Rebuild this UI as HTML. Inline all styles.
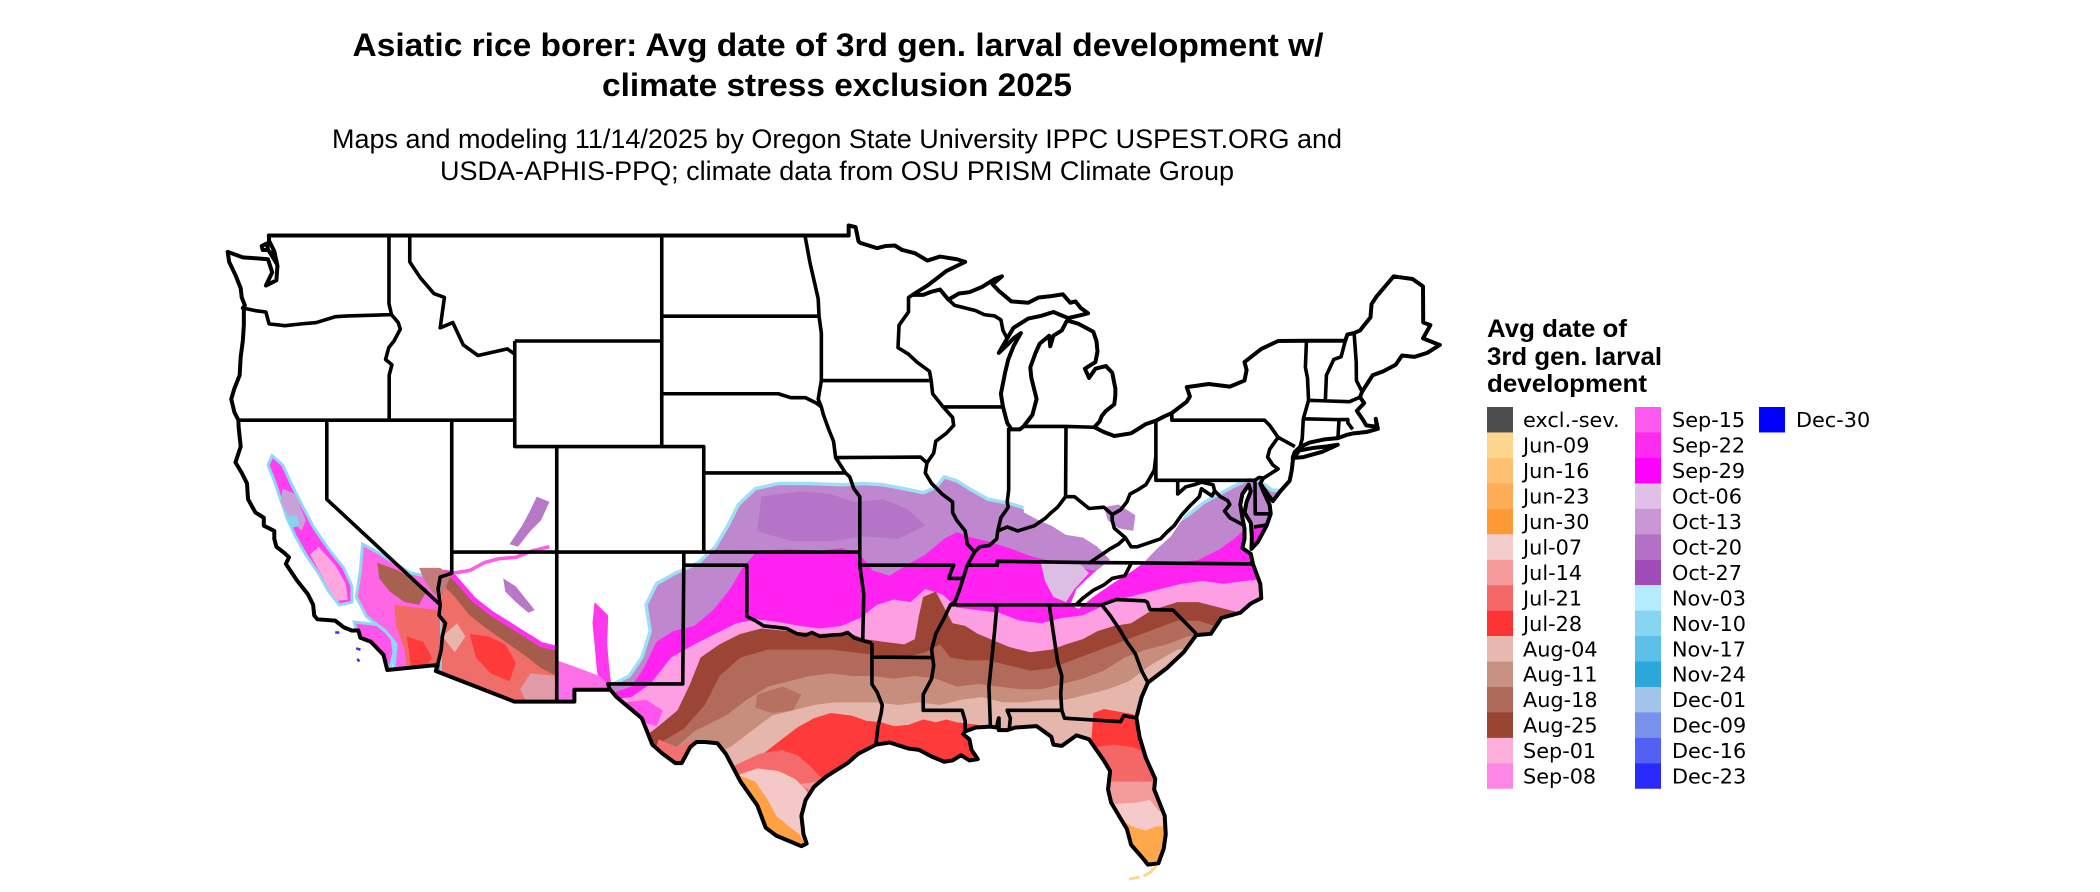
<!DOCTYPE html>
<html>
<head>
<meta charset="utf-8">
<style>
html,body{margin:0;padding:0;background:#fff;}
svg{display:block;}
.lbl{font-family:"DejaVu Sans","Liberation Sans",sans-serif;font-size:20.8px;fill:#000;}
</style>
</head>
<body>
<svg xmlns="http://www.w3.org/2000/svg" width="2100" height="892" viewBox="0 0 2100 892">
<rect width="2100" height="892" fill="#fff"/>

<!-- Titles -->
<text x="838" y="56" text-anchor="middle" font-family="Liberation Sans, Arial, sans-serif" font-weight="bold" font-size="32.5" textLength="971" lengthAdjust="spacingAndGlyphs">Asiatic rice borer: Avg date of 3rd gen. larval development w/</text>
<text x="837" y="96" text-anchor="middle" font-family="Liberation Sans, Arial, sans-serif" font-weight="bold" font-size="32.5" textLength="470" lengthAdjust="spacingAndGlyphs">climate stress exclusion 2025</text>
<text x="837" y="148" text-anchor="middle" font-family="Liberation Sans, Arial, sans-serif" font-size="27" textLength="1010" lengthAdjust="spacingAndGlyphs">Maps and modeling 11/14/2025 by Oregon State University IPPC USPEST.ORG and</text>
<text x="837" y="180" text-anchor="middle" font-family="Liberation Sans, Arial, sans-serif" font-size="27" textLength="794" lengthAdjust="spacingAndGlyphs">USDA-APHIS-PPQ; climate data from OSU PRISM Climate Group</text>

<!-- Map in lon/lat space -->
<g transform="matrix(21 0 0 -26.38 2846.8 1528.1)">
<defs>
<clipPath id="usc">
<path d="M-122.76 49 L-95.15 49 L-95.15 49.38 L-94.82 49.32 L-94.68 48.78 L-94.6 48.72 L-93.8 48.52 L-93.4 48.6 L-92.95 48.62 L-92.6 48.45 L-92 48.33 L-91.4 48.05 L-90.8 48.2 L-90 48.1 L-89.6 48 L-90.5 47.65 L-91.4 47.1 L-92.1 46.75 L-91.6 46.75 L-91.2 46.87 L-90.8 46.95 L-90.4 46.57 L-89.9 46.8 L-89.4 46.85 L-88.8 47.05 L-88.2 47.35 L-87.85 47.45 L-88.3 47.15 L-88 46.9 L-87.4 46.5 L-86.6 46.45 L-86.1 46.65 L-85.5 46.7 L-84.95 46.77 L-84.6 46.45 L-84.35 46.5 L-84.1 46.25 L-83.75 46.05 L-84.1 45.98 L-84.7 45.87 L-85.4 46.1 L-86 45.95 L-86.6 45.85 L-86.9 45.7 L-87.3 45.5 L-87.6 45.1 L-88 44.55 L-87.6 44.85 L-87.3 45.1 L-86.95 45.3 L-87.3 44.8 L-87.55 44.3 L-87.7 43.8 L-87.9 43 L-87.8 42.5 L-87.6 41.9 L-87.4 41.65 L-87 41.65 L-86.82 41.76 L-86.4 42.2 L-86.2 42.8 L-86.45 43.6 L-86.5 44 L-86.25 44.55 L-86.05 44.9 L-85.6 45.2 L-85.55 44.8 L-85.4 45.2 L-85 45.4 L-84.75 45.78 L-84.2 45.65 L-83.5 45.35 L-83.35 45 L-83.3 44.6 L-83.4 44.2 L-83.9 43.95 L-83.7 43.6 L-83.4 43.95 L-82.9 44.05 L-82.6 43.8 L-82.45 43.2 L-82.45 42.95 L-82.5 42.6 L-82.9 42.35 L-83.1 42.15 L-83.2 41.95 L-83.45 41.73 L-83 41.55 L-82.5 41.4 L-81.7 41.5 L-81 41.85 L-80.52 41.98 L-80.1 42.15 L-79.76 42.27 L-79.05 42.7 L-78.9 42.9 L-79.05 43.25 L-78 43.37 L-77 43.27 L-76.3 43.5 L-76.2 43.9 L-76.3 44.2 L-75.5 44.7 L-74.7 45 L-73.35 45.01 L-71.5 45.01 L-71.4 45.25 L-71.08 45.3 L-70.8 45.4 L-70.3 45.9 L-70.25 46.4 L-70 46.7 L-69.2 47.45 L-68.3 47.35 L-67.8 47.07 L-67.79 45.7 L-67.45 45.6 L-67.8 45.1 L-67 44.85 L-67.6 44.55 L-68.2 44.4 L-68.8 44.45 L-69.1 44.1 L-69.7 43.85 L-70.2 43.7 L-70.6 43.2 L-70.7 43.08 L-70.8 42.87 L-70.6 42.65 L-70.95 42.35 L-70.65 42 L-70.5 41.8 L-70 41.75 L-70.05 42.05 L-69.95 41.67 L-70.5 41.55 L-71.1 41.5 L-71.4 41.45 L-71.85 41.32 L-72.5 41.27 L-73.2 41.15 L-73.66 40.98 L-73.9 40.8 L-74 40.6 L-74 40.45 L-74.05 40.1 L-74.15 39.7 L-74.6 39.3 L-74.95 38.93 L-75.2 39.2 L-75.55 39.6 L-75.4 39.3 L-75.1 38.78 L-75.05 38.45 L-75.25 38 L-75.65 37.4 L-75.97 37.12 L-75.95 37.6 L-76 38.1 L-76.3 38.5 L-76.2 38.9 L-76 39.3 L-76.1 39.55 L-76.4 39.2 L-76.5 38.8 L-76.4 38.3 L-76.3 37.9 L-76.3 37.5 L-76.4 37.15 L-76 36.93 L-75.9 36.55 L-75.55 35.8 L-75.5 35.25 L-76 35.05 L-76.5 34.7 L-77.4 34.5 L-77.9 33.9 L-78.6 33.85 L-79.2 33.2 L-80 32.6 L-80.9 32.05 L-81.2 31.5 L-81.45 30.72 L-81.3 30 L-81 29.2 L-80.55 28.4 L-80.6 28 L-80.1 27 L-80.05 26.3 L-80.15 25.75 L-80.4 25.2 L-80.9 25.15 L-81.15 25.4 L-81.7 25.9 L-81.9 26.5 L-82.2 26.9 L-82.65 27.5 L-82.8 28 L-82.7 28.7 L-83 29.1 L-83.7 29.9 L-84.3 30.05 L-85 29.65 L-85.4 29.7 L-85.5 30 L-86.2 30.4 L-87.2 30.35 L-87.6 30.25 L-88 30.25 L-88 30.7 L-88.1 30.35 L-88.4 30.38 L-89.1 30.35 L-89.6 30.2 L-89.7 30.1 L-89.4 29.9 L-89.3 29.5 L-89 29.15 L-89.4 29.1 L-89.8 29.3 L-90.2 29.1 L-90.6 29.05 L-91.2 29.25 L-91.8 29.5 L-92.3 29.55 L-93.2 29.78 L-93.85 29.7 L-94.7 29.35 L-95.2 29 L-96.2 28.5 L-96.8 28.1 L-97.2 27.6 L-97.4 27 L-97.3 26.3 L-97.15 25.95 L-97.4 25.85 L-98 26.05 L-98.6 26.25 L-99.1 26.55 L-99.5 27.4 L-99.9 27.85 L-100.3 28.3 L-100.7 28.9 L-101 29.35 L-101.4 29.75 L-102 29.8 L-102.4 29.8 L-102.7 29.6 L-103.1 29 L-103.4 29 L-104 29.35 L-104.5 29.7 L-104.7 30.1 L-105 30.7 L-105.6 31.1 L-106.2 31.5 L-106.5 31.78 L-108.21 31.78 L-108.21 31.33 L-111.07 31.33 L-114.81 32.49 L-114.72 32.72 L-117.12 32.53 L-117.3 33.1 L-117.9 33.6 L-118.4 33.75 L-118.5 34.03 L-118.8 34.02 L-119.2 34.15 L-119.6 34.4 L-120.45 34.45 L-120.6 34.6 L-120.65 35 L-120.9 35.4 L-121.4 35.9 L-121.95 36.55 L-121.8 36.8 L-122 36.95 L-122.4 37.2 L-122.5 37.5 L-122.5 37.8 L-123 38 L-123 38.3 L-123.4 38.5 L-123.75 39 L-123.8 39.6 L-124.05 40 L-124.35 40.4 L-124.1 41 L-124.2 41.75 L-124.21 42 L-124.4 42.3 L-124.55 42.8 L-124.4 43.2 L-124.15 43.7 L-124.1 44.4 L-124 45 L-123.95 45.6 L-123.95 46.2 L-124 46.25 L-123.9 46.35 L-124.05 46.65 L-124.1 47 L-124.35 47.5 L-124.65 48 L-124.72 48.38 L-124 48.17 L-123.1 48.12 L-122.8 48.1 L-122.6 47.6 L-122.9 47.1 L-122.4 47.3 L-122.35 47.85 L-122.5 48.4 L-122.75 48.8 Z M-73.95 40.57 L-73.5 40.6 L-72.6 40.8 L-71.86 41.07 L-72.4 41 L-73 40.95 L-73.7 40.85 Z"/>
</clipPath>
</defs>

<g clip-path="url(#usc)">
<!-- A purple -->
<path fill="#bf87cd" stroke="#9fdff4" stroke-width="3.5" vector-effect="non-scaling-stroke" d="M-107 28 L-106.6 31.9 L-105.6 32.3 L-105 33 L-104.6 34 L-104.8 35 L-104.3 35.8 L-103.4 36.2 L-102.3 36.6 L-101.5 37.2 L-100.9 38 L-100.4 38.8 L-99.6 39.4 L-98.5 39.6 L-97 39.6 L-95.5 39.55 L-94.5 39.6 L-93.5 39.55 L-92.5 39.4 L-91.6 39.25 L-91 39.45 L-90.6 39.85 L-90 39.7 L-89.3 39.35 L-88.5 39 L-87.5 38.85 L-86.5 38.6 L-85.5 38.4 L-84.5 38.2 L-83.5 38.5 L-82.5 38.8 L-81.5 38.3 L-80.5 37.8 L-79.8 38 L-79 38.4 L-78.2 38.9 L-77.5 39.2 L-76.8 39.5 L-76.1 39.75 L-75.5 39.65 L-75 39.35 L-74 39.3 L-72 38 L-74 30 L-80 24 L-98 24 Z"/>
<!-- darker purple mottling -->
<path fill="#b06cc4" opacity="0.7" d="M-99.3 39.1 L-97.5 39.3 L-96 39.2 L-94.9 38.9 L-93.5 39.0 L-92.3 38.6 L-91.5 38.0 L-92.8 37.5 L-94.5 37.6 L-96 37.4 L-97.8 37.4 L-99.5 37.8 Z"/>
<!-- B magenta -->
<path fill="#ff22f0" d="M-107 28 L-106.6 31.6 L-105.5 31.9 L-104.9 32.6 L-104.3 33.6 L-103.5 34 L-102.5 34.2 L-101.6 34.8 L-100.8 35.6 L-100.2 36.4 L-99.5 37.05 L-98 37.1 L-96.5 37.05 L-95.5 37.15 L-94.6 36.9 L-94 36.3 L-93.2 36.1 L-92.5 36.45 L-91.5 36.9 L-90.6 37.5 L-90 37.75 L-89.3 37.55 L-88.5 37.4 L-87.5 37.15 L-86.5 36.85 L-85.5 36.65 L-84.5 36.5 L-83.5 36.3 L-82.5 36.3 L-81.5 36.5 L-80.5 36.55 L-79.5 36.6 L-78.5 36.7 L-77.5 37.1 L-76.8 37.5 L-76.2 37.9 L-75.5 38 L-74 37 L-74 30 L-80 24 L-98 24 Z"/>
<!-- C pink -->
<path fill="#ff9fe3" d="M-107 28 L-106.6 31.4 L-105.5 31.5 L-104.6 32 L-103.6 33 L-102.5 33.5 L-101.5 33.9 L-100.5 34.3 L-99.5 34.45 L-98.5 34.35 L-97.5 34.2 L-96.5 34.1 L-95.5 34.2 L-94.6 34.5 L-93.8 35 L-93 35.2 L-92.2 35.1 L-91.5 35.6 L-90.7 35.4 L-90 34.9 L-89 34.8 L-88 34.7 L-87 34.4 L-86 34.3 L-85 34.5 L-84 34.6 L-83.2 34.9 L-82.3 35.2 L-81.3 35.4 L-80.3 35.6 L-79.3 35.8 L-78.3 35.9 L-77.3 35.8 L-76.3 35.9 L-75 36 L-74 30 L-80 24 L-98 24 Z"/>
<!-- D Aug-25 -->
<path fill="#9c4535" d="M-107 28 L-105.5 29.6 L-104.2 30.4 L-103.3 31 L-102.7 32 L-102.2 33 L-101.3 33.5 L-100.3 33.9 L-99.3 34.1 L-98 34 L-96.5 33.9 L-95.2 33.95 L-94.4 33.7 L-93.5 33.6 L-92.5 33.5 L-92 33.7 L-91.8 34.6 L-91.6 35.3 L-91 35.5 L-90.6 34.9 L-90.2 34.3 L-89.6 34.2 L-89 33.9 L-88.4 33.7 L-87.5 33.4 L-86.5 33.2 L-85.5 33.3 L-84.8 33.5 L-84 33.7 L-83.3 34 L-82.5 34.2 L-81.7 34.3 L-80.7 34.8 L-79.5 35.1 L-78.5 35.1 L-77.5 34.9 L-76.5 34.7 L-75.5 34.8 L-74 30 L-80 24 L-98 24 Z"/>
<!-- E Aug-18 -->
<path fill="#b26a5a" d="M-107 28 L-104.5 29.6 L-103 30.3 L-102 31.2 L-101.3 32.3 L-100.3 33 L-99 33.3 L-97.5 33.3 L-96 33.3 L-95 33.2 L-93.8 33.1 L-92.5 33 L-91.5 33.2 L-90.8 33.5 L-90.3 33 L-89.5 32.9 L-88.5 32.9 L-87.5 32.7 L-86.5 32.5 L-85.5 32.6 L-84.5 32.9 L-83.5 33.2 L-82.5 33.5 L-81.5 33.8 L-80.5 34.1 L-79.5 34.4 L-78.5 34.4 L-77 34 L-76 33 L-80 24 L-98 24 Z"/>
<!-- F Aug-11 -->
<path fill="#c78e7e" d="M-107 28 L-103.5 29.5 L-102.5 30.2 L-101 30.8 L-100 31.4 L-99 31.9 L-98 32.1 L-97 32.3 L-96 32.4 L-95 32.3 L-94 32.3 L-93 32.2 L-92 32.3 L-91 32.2 L-90 31.9 L-89 32 L-88 31.9 L-87 31.8 L-86 31.8 L-85 32 L-84 32.2 L-83 32.5 L-82 33 L-81 33.3 L-80 33.5 L-79 33.8 L-77 34 L-80 24 L-98 24 Z"/>
<!-- mottling in TX -->
<path fill="#b26a5a" opacity="0.8" d="M-99.5 31.6 L-98.3 31.9 L-97.4 31.6 L-97.8 31.0 L-98.8 30.9 L-99.6 31.1 Z"/>
<!-- G Aug-04 -->
<path fill="#e5b7ac" d="M-107 28 L-102 29.2 L-100.8 29.6 L-99.8 30.2 L-98.8 30.8 L-97.8 31 L-96.8 31.2 L-95.8 31.3 L-94.8 31.3 L-93.8 31.3 L-92.8 31.2 L-91.8 31.3 L-90.8 31.2 L-89.8 31.4 L-88.8 31.5 L-87.8 31.3 L-86.8 31.3 L-85.8 31.4 L-84.8 31.4 L-83.8 31.6 L-82.8 31.8 L-81.8 32.1 L-80.8 32.7 L-79.5 33.3 L-77 33.5 L-80 24 L-98 24 Z"/>
<!-- H Jul-28 Gulf coast -->
<path fill="#ff3a3a" d="M-99.5 28.5 L-99.3 29.3 L-98.5 29.8 L-97.6 30.35 L-96.8 30.7 L-96 30.9 L-95 30.8 L-94.3 30.6 L-93.6 30.55 L-93 30.4 L-92.3 30.45 L-91.6 30.65 L-91 30.55 L-90.5 30.65 L-90 30.55 L-89.5 30.5 L-89 30.45 L-88.7 30.2 L-89 28 L-97 27 Z"/>
<!-- South TX -->
<path fill="#f56a6a" d="M-100.6 28.9 L-99.4 29.35 L-98.4 29.5 L-97.6 29.3 L-97 28.9 L-96.4 28.4 L-96 27 L-100.6 27 Z"/>
<path fill="#f4c8c6" d="M-100.6 28.5 L-99.5 28.8 L-98.5 28.7 L-97.7 28.4 L-97.2 28 L-96.8 27.5 L-96.5 25 L-100.6 25 Z"/>
<path fill="#f39a9a" d="M-97.5 28.2 L-97.05 28 L-97.2 27.2 L-97.3 26.3 L-96.5 26 L-96.5 28.3 Z"/>
<path fill="#ffa043" d="M-100.6 28.6 L-99.6 28.3 L-99 27.6 L-98.6 27 L-98 26.6 L-97.5 26.3 L-97.2 25.9 L-97 25 L-100.6 25 Z"/>
<!-- Big Bend bits -->
<path fill="#f27070" d="M-104.2 29.9 L-103.3 29.6 L-102.5 29.9 L-102.8 29.2 L-103.6 28.8 L-104.4 29.3 Z"/>
<path fill="#ff55ee" d="M-105.8 31.3 L-104.8 31.4 L-104.0 31.0 L-104.3 30.4 L-105.2 30.6 Z"/>
<!-- Florida -->
<path fill="#ff3838" d="M-83.5 30.9 L-83 31.05 L-82.3 30.95 L-81.6 30.85 L-81.2 30.2 L-80.8 29.4 L-80.3 28.5 L-82.8 28.3 L-83.2 29.2 L-83.6 29.8 Z"/>
<path fill="#f46767" d="M-83.5 29.6 L-82.5 29.7 L-81.6 29.6 L-81 29.4 L-80 28 L-83.5 27.8 Z"/>
<path fill="#f39b9b" d="M-83.5 28.3 L-80 28.3 L-80 26 L-83.5 26 Z"/>
<path fill="#f4caca" d="M-83.5 27.4 L-81.5 27.5 L-80.8 27.6 L-80.4 27.2 L-79.8 27 L-79.8 25 L-83.5 25 Z"/>
<path fill="#ffa84a" d="M-83.5 26.85 L-82 26.75 L-81.5 26.55 L-81 26.45 L-80.5 26.6 L-79.8 26.6 L-79.8 24.5 L-83.5 24.5 Z"/>
<!-- Appalachian / KY white -->
<path fill="#ffffff" d="M-86.9 39.5 L-86.8 38.5 L-86.1 38.2 L-85.5 38 L-84.8 37.65 L-84 37.55 L-83.3 37.2 L-82.7 36.7 L-83.5 36.2 L-84.3 35.6 L-84.6 35 L-84.2 34.85 L-83.5 35.3 L-82.6 35.8 L-81.6 36.3 L-81.1 36.6 L-80.5 37.1 L-79.8 37.6 L-79.3 38.2 L-78.8 38.8 L-78.3 39.3 L-78 39.8 L-78 41 L-87 41 Z"/>
<path fill="#dcbde3" d="M-86 36.6 L-84.2 36.6 L-83.7 36.2 L-84.4 35.6 L-84.8 35.1 L-85.4 35.3 L-85.8 35.9 Z"/>
<path fill="#bf87cd" d="M-83 38.7 L-82.3 38.8 L-81.5 38.4 L-81.6 37.8 L-82.3 37.9 L-82.8 38.2 Z"/>

<!-- California Central Valley -->
<path fill="#ff3ff0" stroke="#8ed8f1" stroke-width="3" vector-effect="non-scaling-stroke" d="M-122.6 40.65 L-122.1 40.3 L-121.7 39.6 L-121.2 38.8 L-120.6 37.9 L-119.9 37.1 L-119.2 36.4 L-118.8 35.7 L-118.8 35.1 L-119.4 35 L-119.9 35.5 L-120.4 36.2 L-121 36.9 L-121.5 37.6 L-121.9 38.3 L-122.2 39 L-122.5 39.7 L-122.8 40.3 Z"/>
<path fill="#ffa6e0" d="M-120.4 37.2 L-119.6 36.5 L-119.1 35.8 L-119 35.2 L-119.5 35.15 L-119.9 35.6 L-120.3 36.2 L-120.8 36.9 Z"/>
<path fill="#c9a0d9" d="M-122.1 39.4 L-121.5 39.2 L-121 38.2 L-121.2 37.8 L-121.8 38.3 L-122.2 38.9 Z"/>
<path fill="#86d3ef" d="M-121.9 38.4 L-121.4 38.35 L-121.3 38 L-121.7 37.9 Z"/>
<!-- SoCal -->
<path fill="#ff55ea" stroke="#8ed8f1" stroke-width="3" vector-effect="non-scaling-stroke" d="M-118.7 34.35 L-117.6 34.25 L-116.9 33.8 L-116.8 33.2 L-117 32.55 L-117.3 33 L-117.9 33.5 L-118.5 33.8 Z"/>
<!-- Arizona -->
<path fill="#f06e6a" d="M-114.6 36.2 L-114.1 36.15 L-113.6 35.7 L-113 35.15 L-112.2 34.65 L-111.4 34.25 L-110.6 33.85 L-109.8 33.45 L-109.05 33.3 L-109.05 31 L-114.7 31 L-114.7 35 Z"/>
<path fill="#a65c4c" d="M-114.3 36.15 L-113.6 35.7 L-113 35.15 L-112.2 34.65 L-111.4 34.25 L-110.6 33.85 L-109.8 33.45 L-109.05 33.3 L-109.05 32.3 L-109.8 32.6 L-110.6 33.1 L-111.5 33.6 L-112.4 34.1 L-113.2 34.6 L-113.9 35.3 L-114.4 35.7 Z"/>
<path fill="#ff3a3a" d="M-113.2 33.9 L-112.3 33.8 L-111.5 33.5 L-111 32.8 L-111.3 32.1 L-112.2 32.4 L-112.9 33 Z"/>
<path fill="#e8b5ad" d="M-114.5 33.8 L-113.8 34.3 L-113.4 33.8 L-113.9 33.2 Z"/>
<path fill="#e09aa8" d="M-110.3 32.4 L-109.05 32.3 L-109.05 31.33 L-110.5 31.33 L-110.8 31.8 Z"/>
<path fill="none" stroke="#ff33ee" stroke-width="5" vector-effect="non-scaling-stroke" d="M-114.6 36.25 L-114.1 36.2 L-113.6 35.75 L-113 35.2 L-112.2 34.7 L-111.4 34.3 L-110.6 33.9 L-109.8 33.5 L-109.05 33.35"/>
<path fill="none" stroke="#ff5ae8" stroke-width="3.5" vector-effect="non-scaling-stroke" d="M-114 36.2 L-113.2 36.3 L-112.5 36.6 L-111.8 36.75 L-111 36.8 L-110.2 37.05 L-109.4 37.2"/>
<!-- CA desert -->
<path fill="#ff66e6" stroke="#8ed8f1" stroke-width="3" vector-effect="non-scaling-stroke" d="M-118.3 37.3 L-117.6 37 L-116.8 36.6 L-116 36.2 L-115.3 36.1 L-114.6 36.1 L-114.6 32.5 L-116.8 32.6 L-116.7 33.5 L-117.2 34 L-118.1 34.55 L-118.6 35.3 L-118.4 36.3 Z"/>
<path fill="#a8614f" d="M-117.6 36.6 L-116.6 36.3 L-115.8 35.9 L-115.2 35.6 L-115.6 35 L-116.3 35.1 L-117 35.5 L-117.5 36 Z"/>
<path fill="#f26a66" d="M-116.8 35 L-115.8 34.9 L-114.6 34.8 L-114.6 32.5 L-116.2 32.6 L-116.3 33.3 L-116.7 34.2 Z"/>
<path fill="#ff3a3a" d="M-116.2 33.8 L-115.4 33.6 L-115 33 L-115.3 32.6 L-116 32.7 L-116.1 33.3 Z"/>
<path fill="#c27a7a" d="M-115.6 36.4 L-114.6 36.4 L-114.1 36.1 L-114.6 35.2 L-115 35.5 L-115.4 36 Z"/>
<!-- New Mexico -->
<path fill="#ff38ee" d="M-107.25 35.1 L-106.6 34.6 L-106.65 33.5 L-106.55 32.6 L-106.45 31.9 L-107 31.85 L-107.15 32.6 L-107.25 33.5 L-107.35 34.3 Z"/>
<path fill="#ff70e8" d="M-109.05 32.9 L-108 32.6 L-107 32.3 L-106.6 32 L-106.5 31.78 L-108.21 31.78 L-108.21 31.33 L-109.05 31.33 Z"/>
<!-- purple streaks -->
<path fill="#b878c8" d="M-110 39.1 L-109.4 38.9 L-109.8 38.2 L-110.3 37.8 L-110.9 37.2 L-111.3 37.3 L-110.7 38 L-110.3 38.6 Z"/>
<path fill="#b878c8" d="M-111.6 36 L-111 35.7 L-110.5 35.2 L-110.1 34.8 L-110.4 34.7 L-111 35.1 L-111.5 35.5 Z"/>
</g>

<!-- tiny island bits -->
<path fill="none" stroke="#3030ff" stroke-width="2.5" vector-effect="non-scaling-stroke" d="M-118.6 33.35 L-118.4 33.3 M-118.55 32.95 L-118.45 32.85 M-119.6 33.95 L-119.4 33.95"/>
<path fill="none" stroke="#ffd68f" stroke-width="3" vector-effect="non-scaling-stroke" d="M-81.8 24.6 L-81.3 24.68 M-81.1 24.72 L-80.8 24.85 L-80.5 25.1"/>

<!-- outline -->
<path fill="none" stroke="#000" stroke-width="4" stroke-linejoin="round" vector-effect="non-scaling-stroke" d="M-122.76 49 L-95.15 49 L-95.15 49.38 L-94.82 49.32 L-94.68 48.78 L-94.6 48.72 L-93.8 48.52 L-93.4 48.6 L-92.95 48.62 L-92.6 48.45 L-92 48.33 L-91.4 48.05 L-90.8 48.2 L-90 48.1 L-89.6 48 L-90.5 47.65 L-91.4 47.1 L-92.1 46.75 L-91.6 46.75 L-91.2 46.87 L-90.8 46.95 L-90.4 46.57 L-89.9 46.8 L-89.4 46.85 L-88.8 47.05 L-88.2 47.35 L-87.85 47.45 L-88.3 47.15 L-88 46.9 L-87.4 46.5 L-86.6 46.45 L-86.1 46.65 L-85.5 46.7 L-84.95 46.77 L-84.6 46.45 L-84.35 46.5 L-84.1 46.25 L-83.75 46.05 L-84.1 45.98 L-84.7 45.87 L-85.4 46.1 L-86 45.95 L-86.6 45.85 L-86.9 45.7 L-87.3 45.5 L-87.6 45.1 L-88 44.55 L-87.6 44.85 L-87.3 45.1 L-86.95 45.3 L-87.3 44.8 L-87.55 44.3 L-87.7 43.8 L-87.9 43 L-87.8 42.5 L-87.6 41.9 L-87.4 41.65 L-87 41.65 L-86.82 41.76 L-86.4 42.2 L-86.2 42.8 L-86.45 43.6 L-86.5 44 L-86.25 44.55 L-86.05 44.9 L-85.6 45.2 L-85.55 44.8 L-85.4 45.2 L-85 45.4 L-84.75 45.78 L-84.2 45.65 L-83.5 45.35 L-83.35 45 L-83.3 44.6 L-83.4 44.2 L-83.9 43.95 L-83.7 43.6 L-83.4 43.95 L-82.9 44.05 L-82.6 43.8 L-82.45 43.2 L-82.45 42.95 L-82.5 42.6 L-82.9 42.35 L-83.1 42.15 L-83.2 41.95 L-83.45 41.73 L-83 41.55 L-82.5 41.4 L-81.7 41.5 L-81 41.85 L-80.52 41.98 L-80.1 42.15 L-79.76 42.27 L-79.05 42.7 L-78.9 42.9 L-79.05 43.25 L-78 43.37 L-77 43.27 L-76.3 43.5 L-76.2 43.9 L-76.3 44.2 L-75.5 44.7 L-74.7 45 L-73.35 45.01 L-71.5 45.01 L-71.4 45.25 L-71.08 45.3 L-70.8 45.4 L-70.3 45.9 L-70.25 46.4 L-70 46.7 L-69.2 47.45 L-68.3 47.35 L-67.8 47.07 L-67.79 45.7 L-67.45 45.6 L-67.8 45.1 L-67 44.85 L-67.6 44.55 L-68.2 44.4 L-68.8 44.45 L-69.1 44.1 L-69.7 43.85 L-70.2 43.7 L-70.6 43.2 L-70.7 43.08 L-70.8 42.87 L-70.6 42.65 L-70.95 42.35 L-70.65 42 L-70.5 41.8 L-70 41.75 L-70.05 42.05 L-69.95 41.67 L-70.5 41.55 L-71.1 41.5 L-71.4 41.45 L-71.85 41.32 L-72.5 41.27 L-73.2 41.15 L-73.66 40.98 L-73.9 40.8 L-74 40.6 L-74 40.45 L-74.05 40.1 L-74.15 39.7 L-74.6 39.3 L-74.95 38.93 L-75.2 39.2 L-75.55 39.6 L-75.4 39.3 L-75.1 38.78 L-75.05 38.45 L-75.25 38 L-75.65 37.4 L-75.97 37.12 L-75.95 37.6 L-76 38.1 L-76.3 38.5 L-76.2 38.9 L-76 39.3 L-76.1 39.55 L-76.4 39.2 L-76.5 38.8 L-76.4 38.3 L-76.3 37.9 L-76.3 37.5 L-76.4 37.15 L-76 36.93 L-75.9 36.55 L-75.55 35.8 L-75.5 35.25 L-76 35.05 L-76.5 34.7 L-77.4 34.5 L-77.9 33.9 L-78.6 33.85 L-79.2 33.2 L-80 32.6 L-80.9 32.05 L-81.2 31.5 L-81.45 30.72 L-81.3 30 L-81 29.2 L-80.55 28.4 L-80.6 28 L-80.1 27 L-80.05 26.3 L-80.15 25.75 L-80.4 25.2 L-80.9 25.15 L-81.15 25.4 L-81.7 25.9 L-81.9 26.5 L-82.2 26.9 L-82.65 27.5 L-82.8 28 L-82.7 28.7 L-83 29.1 L-83.7 29.9 L-84.3 30.05 L-85 29.65 L-85.4 29.7 L-85.5 30 L-86.2 30.4 L-87.2 30.35 L-87.6 30.25 L-88 30.25 L-88 30.7 L-88.1 30.35 L-88.4 30.38 L-89.1 30.35 L-89.6 30.2 L-89.7 30.1 L-89.4 29.9 L-89.3 29.5 L-89 29.15 L-89.4 29.1 L-89.8 29.3 L-90.2 29.1 L-90.6 29.05 L-91.2 29.25 L-91.8 29.5 L-92.3 29.55 L-93.2 29.78 L-93.85 29.7 L-94.7 29.35 L-95.2 29 L-96.2 28.5 L-96.8 28.1 L-97.2 27.6 L-97.4 27 L-97.3 26.3 L-97.15 25.95 L-97.4 25.85 L-98 26.05 L-98.6 26.25 L-99.1 26.55 L-99.5 27.4 L-99.9 27.85 L-100.3 28.3 L-100.7 28.9 L-101 29.35 L-101.4 29.75 L-102 29.8 L-102.4 29.8 L-102.7 29.6 L-103.1 29 L-103.4 29 L-104 29.35 L-104.5 29.7 L-104.7 30.1 L-105 30.7 L-105.6 31.1 L-106.2 31.5 L-106.5 31.78 L-108.21 31.78 L-108.21 31.33 L-111.07 31.33 L-114.81 32.49 L-114.72 32.72 L-117.12 32.53 L-117.3 33.1 L-117.9 33.6 L-118.4 33.75 L-118.5 34.03 L-118.8 34.02 L-119.2 34.15 L-119.6 34.4 L-120.45 34.45 L-120.6 34.6 L-120.65 35 L-120.9 35.4 L-121.4 35.9 L-121.95 36.55 L-121.8 36.8 L-122 36.95 L-122.4 37.2 L-122.5 37.5 L-122.5 37.8 L-123 38 L-123 38.3 L-123.4 38.5 L-123.75 39 L-123.8 39.6 L-124.05 40 L-124.35 40.4 L-124.1 41 L-124.2 41.75 L-124.21 42 L-124.4 42.3 L-124.55 42.8 L-124.4 43.2 L-124.15 43.7 L-124.1 44.4 L-124 45 L-123.95 45.6 L-123.95 46.2 L-124 46.25 L-123.9 46.35 L-124.05 46.65 L-124.1 47 L-124.35 47.5 L-124.65 48 L-124.72 48.38 L-124 48.17 L-123.1 48.12 L-122.8 48.1 L-122.6 47.6 L-122.9 47.1 L-122.4 47.3 L-122.35 47.85 L-122.5 48.4 L-122.75 48.8 Z M-73.95 40.57 L-73.5 40.6 L-72.6 40.8 L-71.86 41.07 L-72.4 41 L-73 40.95 L-73.7 40.85 Z M-122.75 48.4 L-122.55 48.15 L-122.4 47.95 L-122.5 48.25 Z M-123.1 48.6 L-122.85 48.7 L-122.8 48.45 L-123.05 48.45 Z"/>

<!-- state borders -->
<path fill="none" stroke="#000" stroke-width="3.6" stroke-linejoin="round" vector-effect="non-scaling-stroke" d="M-124 46.25 L-123.4 46.15 L-122.9 46.1 L-122.75 45.65 L-122 45.58 L-121.2 45.65 L-120.5 45.7 L-119.6 45.92 L-119 45.95 L-116.92 46 L-117.04 46.42 L-117.04 49
M-116.92 46 L-116.6 45.7 L-116.5 45.45 L-116.8 45 L-117.05 44.75 L-117.2 44.3 L-116.9 44.1 L-117.03 43.7 L-117.03 42
M-124.21 42 L-111.05 42
M-116.05 49 L-116.05 48 L-115.55 47.4 L-114.9 46.8 L-114.4 46.65 L-114.6 45.5 L-114 45.7 L-113.5 44.85 L-112.8 44.45 L-111.4 44.7 L-111.05 44.5
M-111.05 45 L-104.05 45
M-111.05 45 L-111.05 41 L-102.05 41 L-102.05 40 L-95.3 40
M-104.05 49 L-104.05 41
M-104.05 45.94 L-96.56 45.94
M-104.05 43 L-98.5 43 L-97.9 42.85 L-97.2 42.85 L-96.7 42.65 L-96.45 42.5
M-114.05 42 L-114.05 36.2 L-114.6 36.05 L-114.7 35.6 L-114.6 35 L-114.65 34.6 L-114.35 34.3 L-114.5 33.8 L-114.55 33.3 L-114.72 32.75
M-120 42 L-120 39 L-114.6 35
M-114.05 37 L-94.62 37
M-109.05 41 L-109.05 31.33
M-102.05 40 L-102.05 37
M-103 37 L-103 36.5 L-100 36.5 L-100 34.56 L-99.6 34.4 L-99.2 34.2 L-98.6 34.15 L-98.1 34.1 L-97.6 33.9 L-97.2 33.85 L-96.9 33.95 L-96.5 33.8 L-96 33.85 L-95.5 33.87 L-95.2 33.95 L-94.9 33.75 L-94.48 33.64 L-94.04 33.55
M-103 36.5 L-103.05 32 L-106.62 32 L-106.5 31.78
M-94.04 33.55 L-94.04 31.99 L-93.8 31.7 L-93.55 31.2 L-93.6 30.9 L-93.75 30.4 L-93.85 29.72
M-94.62 37 L-94.62 36.5 L-94.43 35.4 L-94.48 33.64
M-94.04 33.02 L-91.16 33
M-94.62 36.5 L-90.15 36.5 L-90.35 36.1 L-90.38 36 L-89.7 36
M-94.62 37 L-94.62 39.1 L-94.9 39.4 L-95.1 39.85 L-95.3 40 L-95.77 40.58 L-95.87 41.2 L-96.1 41.65 L-96.35 42.2 L-96.45 42.5 L-96.6 42.8 L-96.45 43.5 L-96.45 45.3 L-96.56 45.94 L-96.6 46.6 L-96.8 47.3 L-97 48 L-97.23 49
M-95.77 40.58 L-91.73 40.6 L-91.42 40.38
M-96.45 43.5 L-91.22 43.5
M-92.1 46.75 L-92.3 46.65 L-92.3 46.1 L-92.75 45.6 L-92.8 44.75 L-92.3 44.5 L-91.9 44.2 L-91.3 43.85 L-91.22 43.5 L-91.15 43 L-90.65 42.5 L-90.2 42.1 L-90.15 41.8 L-90.5 41.5 L-91 41.2 L-91.1 40.75 L-91.42 40.38 L-91.5 40 L-91.2 39.6 L-90.7 39.2 L-90.2 38.9 L-90.2 38.5 L-90 38.2 L-89.6 37.8 L-89.5 37.3 L-89.15 37 L-89.5 36.5 L-89.7 36 L-89.9 35.5 L-90.1 35.1 L-90.3 35 L-90.6 34.5 L-91 33.9 L-91.2 33.3 L-91.1 32.7 L-91.2 32.2 L-91.6 31.6 L-91.6 31 L-89.75 31 L-89.6 30.6 L-89.6 30.2
M-90.65 42.5 L-87.8 42.5
M-87.6 45.1 L-87.8 45.4 L-87.9 45.8 L-88.2 45.95 L-88.7 46 L-89.1 46.15 L-90.1 46.35 L-90.4 46.57
M-87.53 41.7 L-87.53 39.35 L-87.6 38.9 L-87.55 38.7 L-87.9 38.3 L-88.05 37.8 L-88.1 37.5 L-88.45 37.25 L-88.9 37.2 L-89.15 37
M-86.82 41.76 L-84.8 41.76 L-83.45 41.73
M-84.8 41.76 L-84.82 39.1
M-88.05 37.8 L-87.6 37.95 L-87.1 37.8 L-86.7 37.9 L-86.3 38 L-85.8 38.27 L-85.5 38.5 L-85.2 38.7 L-84.82 39.1 L-84.4 39.1 L-83.7 38.65 L-83 38.7 L-82.6 38.42 L-82.2 38.6 L-81.9 38.9 L-81.75 39.2 L-81.4 39.35 L-81 39.55 L-80.85 39.75 L-80.6 40.1 L-80.52 40.64 L-80.52 41.98
M-80.52 40.64 L-80.52 39.72 L-75.8 39.72
M-82.6 38.42 L-82.6 38.2 L-82.5 37.9 L-81.97 37.54 L-82.3 37.3 L-82.7 37.12 L-83.67 36.6
M-89.5 36.5 L-88.07 36.5 L-88.07 36.65 L-83.67 36.6 L-81.68 36.59 L-75.87 36.55
M-81.68 36.59 L-82 36.1 L-82.6 36 L-83 35.75 L-83.5 35.55 L-84 35.25 L-84.32 35
M-90.3 35 L-83.1 35
M-83.1 35 L-82.4 35.2 L-81.05 35.15 L-80.93 35.1 L-80.8 34.82 L-79.7 34.8 L-78.55 33.86
M-83.1 35 L-82.7 34.6 L-82.2 34 L-81.9 33.6 L-81.5 33.15 L-81.2 32.5 L-80.9 32.05
M-85.6 35 L-85.2 32.85 L-85 32.3 L-85.05 31.6 L-85 31 L-84.87 30.7 L-82.2 30.57 L-82.05 30.8 L-81.5 30.72
M-85 31 L-87.6 31 L-87.45 30.7 L-87.5 30.3
M-88.2 35 L-88.1 34.9 L-88.2 34 L-88.47 31.9 L-88.4 30.4
M-79.48 39.72 L-79.48 39.2 L-79.1 39.47 L-78.7 39.55 L-78.35 39.65 L-77.8 39.55 L-77.72 39.32 L-77.85 39.13 L-78.35 39.4 L-78.45 39.1 L-78.9 38.75 L-79.3 38.4 L-79.65 38 L-80 37.75 L-80.3 37.5 L-80.85 37.35 L-81.4 37.2 L-81.7 37.2 L-81.97 37.54
M-77.72 39.32 L-77.45 39.1 L-77.1 38.95 L-77 38.8 L-77.25 38.55 L-77 38.3 L-76.3 38
M-75.8 39.72 L-75.79 38.45 L-75.05 38.45
M-75.85 37.95 L-75.24 38.03
M-75.8 39.72 L-75.6 39.83 L-75.4 39.8
M-79.76 42.27 L-79.76 42 L-75.35 42 L-75.1 41.8 L-74.7 41.35 L-73.9 41
M-74.7 41.35 L-75.1 40.9 L-75.2 40.6 L-74.95 40.3 L-74.7 40.15 L-75.1 39.95 L-75.4 39.8 L-75.55 39.6
M-73.35 45.01 L-73.4 44 L-73.3 43.6 L-73.25 42.75 L-73.5 42.05 L-73.55 41.3 L-73.66 40.98
M-71.5 45.01 L-71.7 44.4 L-72.05 44.3 L-72.4 43.7 L-72.45 42.73
M-73.25 42.75 L-72.45 42.73 L-71.3 42.7 L-70.8 42.87
M-71.08 45.3 L-70.98 44.2 L-70.97 43.5 L-70.7 43.08
M-73.5 42.05 L-71.8 42.02 L-71.38 42.02 L-71.38 41.9 L-71.15 41.65
M-71.8 42.02 L-71.85 41.32"/>
</g>

<!-- Legend -->
<text x="1487" y="337" font-family="Liberation Sans, Arial, sans-serif" font-weight="bold" font-size="25" textLength="140" lengthAdjust="spacingAndGlyphs">Avg date of</text>
<text x="1487" y="365" font-family="Liberation Sans, Arial, sans-serif" font-weight="bold" font-size="25" textLength="175" lengthAdjust="spacingAndGlyphs">3rd gen. larval</text>
<text x="1487" y="392" font-family="Liberation Sans, Arial, sans-serif" font-weight="bold" font-size="25" textLength="160" lengthAdjust="spacingAndGlyphs">development</text>

<g>
<rect x="1487" y="407" width="26" height="25.6" fill="#4d4d4d"/>
<rect x="1487" y="432.45" width="26" height="25.6" fill="#fed68f"/>
<rect x="1487" y="457.9" width="26" height="25.6" fill="#fec171"/>
<rect x="1487" y="483.35" width="26" height="25.6" fill="#fdad56"/>
<rect x="1487" y="508.8" width="26" height="25.6" fill="#fd9a36"/>
<rect x="1487" y="534.25" width="26" height="25.6" fill="#f4cccc"/>
<rect x="1487" y="559.7" width="26" height="25.6" fill="#f49a9a"/>
<rect x="1487" y="585.15" width="26" height="25.6" fill="#f56868"/>
<rect x="1487" y="610.6" width="26" height="25.6" fill="#fe3333"/>
<rect x="1487" y="636.05" width="26" height="25.6" fill="#e6b8af"/>
<rect x="1487" y="661.5" width="26" height="25.6" fill="#c99084"/>
<rect x="1487" y="686.95" width="26" height="25.6" fill="#b06a5b"/>
<rect x="1487" y="712.4" width="26" height="25.6" fill="#9a4432"/>
<rect x="1487" y="737.85" width="26" height="25.6" fill="#fdafdc"/>
<rect x="1487" y="763.3" width="26" height="25.45" fill="#fe87e6"/>

<rect x="1635" y="407" width="26" height="25.6" fill="#fd59ee"/>
<rect x="1635" y="432.45" width="26" height="25.6" fill="#fd2af0"/>
<rect x="1635" y="457.9" width="26" height="25.6" fill="#fe00fe"/>
<rect x="1635" y="483.35" width="26" height="25.6" fill="#e0c0e6"/>
<rect x="1635" y="508.8" width="26" height="25.6" fill="#cb96d4"/>
<rect x="1635" y="534.25" width="26" height="25.6" fill="#b470c6"/>
<rect x="1635" y="559.7" width="26" height="25.6" fill="#9f4cb8"/>
<rect x="1635" y="585.15" width="26" height="25.6" fill="#b3ecfe"/>
<rect x="1635" y="610.6" width="26" height="25.6" fill="#88d5f2"/>
<rect x="1635" y="636.05" width="26" height="25.6" fill="#5bbfe8"/>
<rect x="1635" y="661.5" width="26" height="25.6" fill="#2ba7dc"/>
<rect x="1635" y="686.95" width="26" height="25.6" fill="#a1c5e8"/>
<rect x="1635" y="712.4" width="26" height="25.6" fill="#7891eb"/>
<rect x="1635" y="737.85" width="26" height="25.6" fill="#5261f3"/>
<rect x="1635" y="763.3" width="26" height="25.45" fill="#2a2bfb"/>

<rect x="1759" y="407" width="26" height="25.45" fill="#0000fe"/>
</g>

<g class="lbl">
<text class="lbl" x="1523" y="427.2">excl.-sev.</text>
<text class="lbl" x="1523" y="452.65">Jun-09</text>
<text class="lbl" x="1523" y="478.1">Jun-16</text>
<text class="lbl" x="1523" y="503.55">Jun-23</text>
<text class="lbl" x="1523" y="529">Jun-30</text>
<text class="lbl" x="1523" y="554.45">Jul-07</text>
<text class="lbl" x="1523" y="579.9">Jul-14</text>
<text class="lbl" x="1523" y="605.35">Jul-21</text>
<text class="lbl" x="1523" y="630.8">Jul-28</text>
<text class="lbl" x="1523" y="656.25">Aug-04</text>
<text class="lbl" x="1523" y="681.7">Aug-11</text>
<text class="lbl" x="1523" y="707.15">Aug-18</text>
<text class="lbl" x="1523" y="732.6">Aug-25</text>
<text class="lbl" x="1523" y="758.05">Sep-01</text>
<text class="lbl" x="1523" y="783.5">Sep-08</text>

<text class="lbl" x="1672" y="427.2">Sep-15</text>
<text class="lbl" x="1672" y="452.65">Sep-22</text>
<text class="lbl" x="1672" y="478.1">Sep-29</text>
<text class="lbl" x="1672" y="503.55">Oct-06</text>
<text class="lbl" x="1672" y="529">Oct-13</text>
<text class="lbl" x="1672" y="554.45">Oct-20</text>
<text class="lbl" x="1672" y="579.9">Oct-27</text>
<text class="lbl" x="1672" y="605.35">Nov-03</text>
<text class="lbl" x="1672" y="630.8">Nov-10</text>
<text class="lbl" x="1672" y="656.25">Nov-17</text>
<text class="lbl" x="1672" y="681.7">Nov-24</text>
<text class="lbl" x="1672" y="707.15">Dec-01</text>
<text class="lbl" x="1672" y="732.6">Dec-09</text>
<text class="lbl" x="1672" y="758.05">Dec-16</text>
<text class="lbl" x="1672" y="783.5">Dec-23</text>

<text class="lbl" x="1796" y="427.2">Dec-30</text>
</g>
</svg>
</body>
</html>
